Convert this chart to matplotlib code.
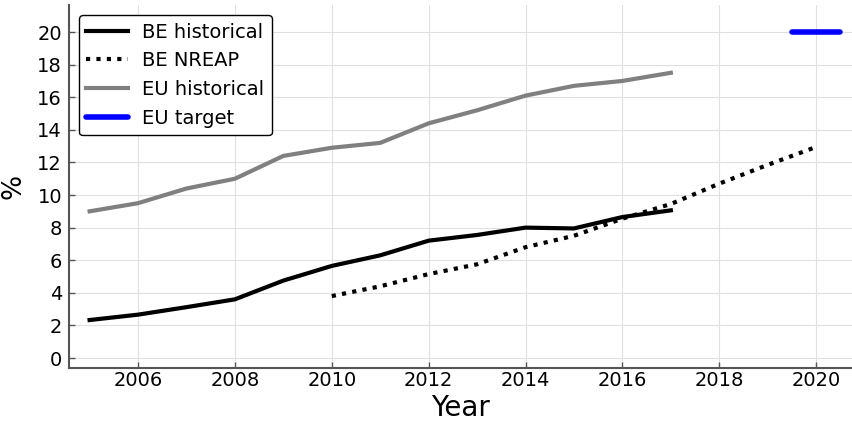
import matplotlib
matplotlib.use("Agg")
import matplotlib.pyplot as plt

# share of renewables in gross final energy consumption (%)
beYears = [2005, 2006, 2007, 2008, 2009, 2010, 2011, 2012, 2013, 2014, 2015, 2016, 2017]
beHistorical = [2.33, 2.66, 3.12, 3.6, 4.75, 5.65, 6.3, 7.2, 7.55, 8.0, 7.95, 8.65, 9.06]

nreapYears = [2010, 2011, 2012, 2013, 2014, 2015, 2016, 2017, 2018, 2019, 2020]
beNreap = [3.8, 4.4, 5.15, 5.75, 6.8, 7.5, 8.55, 9.45, 10.7, 11.85, 12.95]

euYears = [2005, 2006, 2007, 2008, 2009, 2010, 2011, 2012, 2013, 2014, 2015, 2016, 2017]
euHistorical = [9.0, 9.5, 10.4, 11.0, 12.4, 12.9, 13.2, 14.4, 15.2, 16.1, 16.7, 17.0, 17.5]

targetYears = [2019.5, 2020.5]
euTarget = [20, 20]

xTicks = [2006, 2008, 2010, 2012, 2014, 2016, 2018, 2020]
yTicks = [0, 2, 4, 6, 8, 10, 12, 14, 16, 18, 20]

fig = plt.figure(figsize=(8.53, 4.21), dpi=100)
ax = fig.add_axes([69/853, 1 - 368/421, (852 - 69)/853, (368 - 5)/421])

ax.plot(beYears, beHistorical, color="black", linewidth=3, label="BE historical")
ax.plot(nreapYears, beNreap, color="black", linewidth=3, linestyle=(0, (1, 1.5)), label="BE NREAP")
ax.plot(euYears, euHistorical, color="gray", linewidth=3, label="EU historical")
ax.plot(targetYears, euTarget, color="blue", linewidth=4, solid_capstyle="round", label="EU target")

ax.set_xlim(2004.575, 2020.74)
ax.set_ylim(-0.613, 21.66)
ax.set_xticks(xTicks)
ax.set_yticks(yTicks)
ax.grid(True, color="#e0e0e0", linewidth=0.8)
ax.set_axisbelow(True)

for side in ["top", "right"]:
    ax.spines[side].set_visible(False)
for side in ["left", "bottom"]:
    ax.spines[side].set_color("#555555")
    ax.spines[side].set_linewidth(1.5)
ax.tick_params(direction="in", length=4, width=1, color="#555555", labelsize=14)
ax.tick_params(axis="x", pad=2)
ax.tick_params(axis="y", pad=5)

ax.set_xlabel("Year", fontsize=20, labelpad=3)
ax.set_ylabel("%", fontsize=19, labelpad=8)

leg = ax.legend(loc="upper left", bbox_to_anchor=(0.0, 1.0), borderaxespad=0.5, fontsize=14,
                handlelength=2.15, handletextpad=0.7, borderpad=0.4, labelspacing=0.5,
                fancybox=True, framealpha=1)
leg.get_frame().set_edgecolor("black")
leg.get_frame().set_linewidth(1)

fig.savefig("out.png", dpi=100)
